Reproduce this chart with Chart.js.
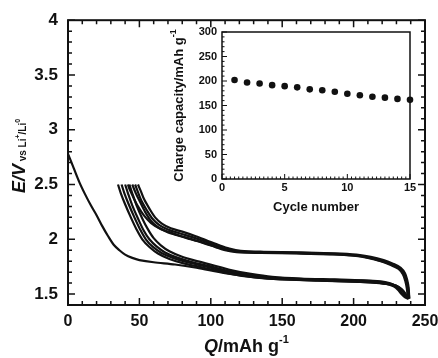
<!DOCTYPE html>
<html lang="en">
<head>
<meta charset="UTF-8" />
<title>Charge/discharge profiles</title>
<script src="https://cdn.jsdelivr.net/npm/chart.js"></script>
<style>
  body { margin: 0; background: #fff; }
  #wrap { position: relative; width: 438px; height: 358px; background: #fff; }
  #main { position: absolute; left: 0; top: 0; }
  #inset { position: absolute; left: 160px; top: 20px; }
</style>
</head>
<body>
<div id="wrap">
  <canvas id="main" width="438" height="358"></canvas>
  <canvas id="inset" width="260" height="200"></canvas>
</div>
<script>
// axis ticks
const qTicks = [0, 50, 100, 150, 200, 250];
const eTicks = [1.5, 2, 2.5, 3, 3.5, 4];
const cycleTicks = [0, 5, 10, 15];
const capTicks = [0, 50, 100, 150, 200, 250, 300];

// voltage profiles, [Q (mAh/g), E (V)]
const firstDischarge = [[0,2.78],[4,2.65],[8,2.52],[12,2.41],[16,2.31],[20,2.22],[24,2.12],[28,2.03],[32,1.95],[36,1.9],[40,1.86],[45,1.83],[50,1.81],[60,1.79],[75,1.77],[90,1.74],[110,1.69],[130,1.655],[150,1.635],[175,1.622],[200,1.613],[215,1.604],[225,1.592],[230,1.575],[234,1.54],[236.5,1.5],[238,1.465]];

const charge2 = [[238,1.46],[237.3,1.55],[236.2,1.62],[234.5,1.68],[231.5,1.73],[226,1.765],[219,1.8],[210,1.83],[200,1.85],[185,1.862],[160,1.87],[135,1.875],[118,1.882],[110,1.9],[103,1.93],[95,1.965],[86,2.0],[77,2.035],[69,2.07],[63,2.11],[58,2.17],[54,2.25],[50.5,2.34],[47.5,2.42],[45,2.5]];
const charge3 = [[238.5,1.46],[237.8,1.55],[236.8,1.62],[235,1.68],[232,1.735],[227,1.77],[220,1.805],[211,1.835],[201,1.855],[186,1.867],[160,1.876],[135,1.882],[119,1.89],[111,1.91],[104,1.94],[96,1.98],[87,2.02],[78,2.055],[70,2.09],[64,2.13],[59,2.19],[55,2.27],[51.5,2.35],[49,2.43],[47,2.5]];
const charge4 = [[239,1.455],[238.4,1.54],[237.4,1.61],[235.8,1.67],[233,1.725],[228,1.762],[221,1.795],[212,1.828],[202,1.85],[187,1.864],[162,1.873],[137,1.879],[120,1.886],[112,1.9],[105,1.925],[97,1.96],[88,1.995],[79,2.03],[71,2.065],[64,2.1],[58,2.15],[53,2.22],[49,2.3],[45.5,2.39],[43,2.46],[42,2.5]];
const charge5 = [[239,1.46],[238.5,1.56],[237.5,1.63],[236,1.69],[233,1.74],[228,1.775],[221,1.81],[212,1.84],[202,1.86],[187,1.872],[162,1.88],[137,1.886],[121,1.895],[113,1.915],[106,1.945],[98,1.985],[89,2.03],[80,2.07],[72,2.1],[66,2.14],[61,2.2],[57,2.28],[53.5,2.36],[51,2.44],[49,2.5]];

const discharge2 = [[35,2.5],[37,2.42],[40,2.32],[44,2.2],[48,2.09],[52,2.0],[57,1.93],[63,1.87],[71,1.82],[81,1.78],[95,1.74],[110,1.695],[125,1.66],[140,1.64],[160,1.628],[185,1.62],[205,1.612],[218,1.6],[226,1.585],[231,1.56],[234.5,1.52],[237,1.48],[238,1.46]];
const discharge3 = [[37.5,2.5],[39.5,2.42],[42.5,2.32],[46.5,2.2],[50.5,2.09],[54.5,2.0],[59.5,1.93],[65.5,1.875],[73.5,1.83],[83.5,1.79],[97,1.75],[111,1.705],[125,1.67],[140,1.648],[160,1.635],[185,1.627],[205,1.618],[217,1.606],[224,1.59],[228,1.57],[231,1.54],[233.5,1.5],[236,1.47],[238.5,1.455]];
const discharge4 = [[40,2.5],[42,2.42],[45,2.31],[49,2.19],[53,2.08],[57,2.0],[62,1.935],[68,1.88],[76,1.835],[86,1.795],[99,1.755],[113,1.71],[127,1.675],[142,1.652],[162,1.638],[186,1.63],[206,1.622],[219,1.61],[226,1.594],[230,1.575],[233,1.55],[235.5,1.51],[237.5,1.475],[239,1.46]];
const discharge5 = [[43,2.5],[45,2.42],[48,2.31],[52,2.19],[56,2.09],[60,2.01],[65,1.945],[71,1.89],[79,1.845],[89,1.805],[101,1.765],[114,1.72],[128,1.685],[143,1.658],[163,1.642],[187,1.634],[207,1.626],[219,1.615],[225,1.6],[228.5,1.58],[231,1.55],[233.5,1.51],[236,1.48],[238.5,1.46]];

const profiles = [firstDischarge, charge2, discharge2, charge3, discharge3, charge4, discharge4, charge5, discharge5];

// inset: charge capacity per cycle
const cycleNo = [1, 2, 3, 4, 5, 6, 7, 8, 9, 10, 11, 12, 13, 14, 15];
const chargeCapacity = [202, 197, 195, 191.5, 189.5, 187, 183, 181, 178, 174, 171, 168, 166, 163.5, 161.5];

const FONT = "'Liberation Sans', Arial, Helvetica, sans-serif";
const INK = '#111';
Chart.defaults.font.family = FONT;
Chart.defaults.color = INK;

// box frame + inward ticks on the chosen sides
const frameTicks = {
  id: 'frameTicks',
  afterDraw(chart, args, o) {
    const { ctx, chartArea: a, scales } = chart;
    ctx.save();
    ctx.strokeStyle = INK;
    ctx.lineWidth = o.lw;
    ctx.strokeRect(a.left, a.top, a.right - a.left, a.bottom - a.top);
    ctx.lineWidth = o.tw;
    ctx.beginPath();
    const sx = scales.x, sy = scales.y;
    const nx = Math.round((sx.max - sx.min) / o.xMinor);
    for (let i = 0; i <= nx; i++) {
      const v = sx.min + i * o.xMinor;
      const r = v / o.xMajor;
      const len = Math.abs(r - Math.round(r)) < 1e-6 ? o.major : o.minor;
      const px = sx.getPixelForValue(v);
      ctx.moveTo(px, a.bottom); ctx.lineTo(px, a.bottom - len);
      if (o.mirror) { ctx.moveTo(px, a.top); ctx.lineTo(px, a.top + len); }
    }
    const ny = Math.round((sy.max - sy.min) / o.yMinor);
    for (let i = 0; i <= ny; i++) {
      const v = sy.min + i * o.yMinor;
      const r = v / o.yMajor;
      const len = Math.abs(r - Math.round(r)) < 1e-6 ? o.major : o.minor;
      const py = sy.getPixelForValue(v);
      ctx.moveTo(a.left, py); ctx.lineTo(a.left + len, py);
      if (o.mirror) { ctx.moveTo(a.right, py); ctx.lineTo(a.right - len, py); }
    }
    ctx.stroke();
    ctx.restore();
  }
};

// text made of runs with different fonts / baseline shifts
function drawRuns(ctx, runs, cx, base) {
  let total = 0;
  runs.forEach(r => { ctx.font = r.f; r.w = ctx.measureText(r.t).width; total += r.w; });
  let x = cx - total / 2;
  ctx.textAlign = 'left';
  ctx.textBaseline = 'alphabetic';
  runs.forEach(r => { ctx.font = r.f; ctx.fillText(r.t, x, base + (r.dy || 0)); x += r.w; });
}

const mainTitles = {
  id: 'mainTitles',
  afterDraw(chart) {
    const { ctx, chartArea: a } = chart;
    ctx.save();
    ctx.fillStyle = INK;
    drawRuns(ctx, [
      { t: 'Q', f: `italic bold 18px ${FONT}` },
      { t: '/mAh g', f: `bold 18px ${FONT}` },
      { t: '-1', f: `bold 11px ${FONT}`, dy: -9 }
    ], (a.left + a.right) / 2, 352);
    ctx.translate(25, 156);
    ctx.rotate(-Math.PI / 2);
    drawRuns(ctx, [
      { t: 'E/V', f: `italic bold 18px ${FONT}` },
      { t: ' vs Li', f: `bold 10px ${FONT}`, dy: 1 },
      { t: '+', f: `bold 7px ${FONT}`, dy: -5 },
      { t: '/Li', f: `bold 10px ${FONT}`, dy: 1 },
      { t: '0', f: `bold 7px ${FONT}`, dy: -5 }
    ], 0, 0);
    ctx.restore();
  }
};

const insetTitles = {
  id: 'insetTitles',
  afterDraw(chart) {
    const { ctx, chartArea: a } = chart;
    ctx.save();
    ctx.fillStyle = INK;
    drawRuns(ctx, [{ t: 'Cycle number', f: `bold 13px ${FONT}` }], (a.left + a.right) / 2, 191);
    ctx.translate(23, (a.top + a.bottom) / 2);
    ctx.rotate(-Math.PI / 2);
    drawRuns(ctx, [
      { t: 'Charge capacity/mAh g', f: `bold 13px ${FONT}` },
      { t: '-1', f: `bold 9px ${FONT}`, dy: -7 }
    ], 0, 0);
    ctx.restore();
  }
};

new Chart(document.getElementById('main'), {
  type: 'scatter',
  data: {
    datasets: profiles.map(p => ({
      data: p.map(([q, e]) => ({ x: q, y: e })),
      showLine: true,
      borderColor: INK,
      borderWidth: 2.2,
      pointRadius: 0,
      tension: 0.3
    }))
  },
  options: {
    responsive: false,
    animation: false,
    layout: { padding: { top: 19, right: 13, left: 0, bottom: 0 } },
    plugins: {
      legend: { display: false },
      tooltip: { enabled: false },
      frameTicks: { lw: 2, tw: 1.5, xMinor: 10, xMajor: 50, yMinor: 0.1, yMajor: 0.5, major: 7, minor: 4, mirror: true }
    },
    scales: {
      x: {
        type: 'linear', min: 0, max: 250,
        afterBuildTicks: s => { s.ticks = qTicks.map(v => ({ value: v })); },
        afterFit: s => { s.height = 53; s.paddingLeft = 0; s.paddingRight = 0; },
        ticks: { autoSkip: false, maxRotation: 0, padding: 7, font: { size: 16, weight: 'bold' }, callback: v => String(v) },
        grid: { display: false, drawTicks: false },
        border: { display: false }
      },
      y: {
        type: 'linear', min: 1.4, max: 4,
        afterBuildTicks: s => { s.ticks = eTicks.map(v => ({ value: v })); },
        afterFit: s => { s.width = 68; },
        ticks: { autoSkip: false, padding: 10, font: { size: 17, weight: 'bold' }, callback: v => String(v) },
        grid: { display: false, drawTicks: false },
        border: { display: false }
      }
    }
  },
  plugins: [frameTicks, mainTitles]
});

new Chart(document.getElementById('inset'), {
  type: 'scatter',
  data: {
    datasets: [{
      data: cycleNo.map((c, i) => ({ x: c, y: chargeCapacity[i] })),
      pointRadius: 3.3,
      pointBackgroundColor: INK,
      pointBorderWidth: 0,
      clip: false
    }]
  },
  options: {
    responsive: false,
    animation: false,
    layout: { padding: { top: 12, right: 10, left: 0, bottom: 0 } },
    plugins: {
      legend: { display: false },
      tooltip: { enabled: false },
      frameTicks: { lw: 1.5, tw: 1, xMinor: 1 / 3, xMajor: 5, yMinor: 10, yMajor: 50, major: 5, minor: 2.5, mirror: false }
    },
    scales: {
      x: {
        type: 'linear', min: 0, max: 15,
        afterBuildTicks: s => { s.ticks = cycleTicks.map(v => ({ value: v })); },
        afterFit: s => { s.height = 41; s.paddingLeft = 0; s.paddingRight = 0; },
        ticks: { autoSkip: false, maxRotation: 0, padding: 2, font: { size: 11, weight: 'bold' }, callback: v => String(v) },
        grid: { display: false, drawTicks: false },
        border: { display: false }
      },
      y: {
        type: 'linear', min: 0, max: 300,
        afterBuildTicks: s => { s.ticks = capTicks.map(v => ({ value: v })); },
        afterFit: s => { s.width = 62; },
        ticks: { autoSkip: false, padding: 5, font: { size: 11, weight: 'bold' }, callback: v => String(v) },
        grid: { display: false, drawTicks: false },
        border: { display: false }
      }
    }
  },
  plugins: [frameTicks, insetTitles]
});
</script>
</body>
</html>
